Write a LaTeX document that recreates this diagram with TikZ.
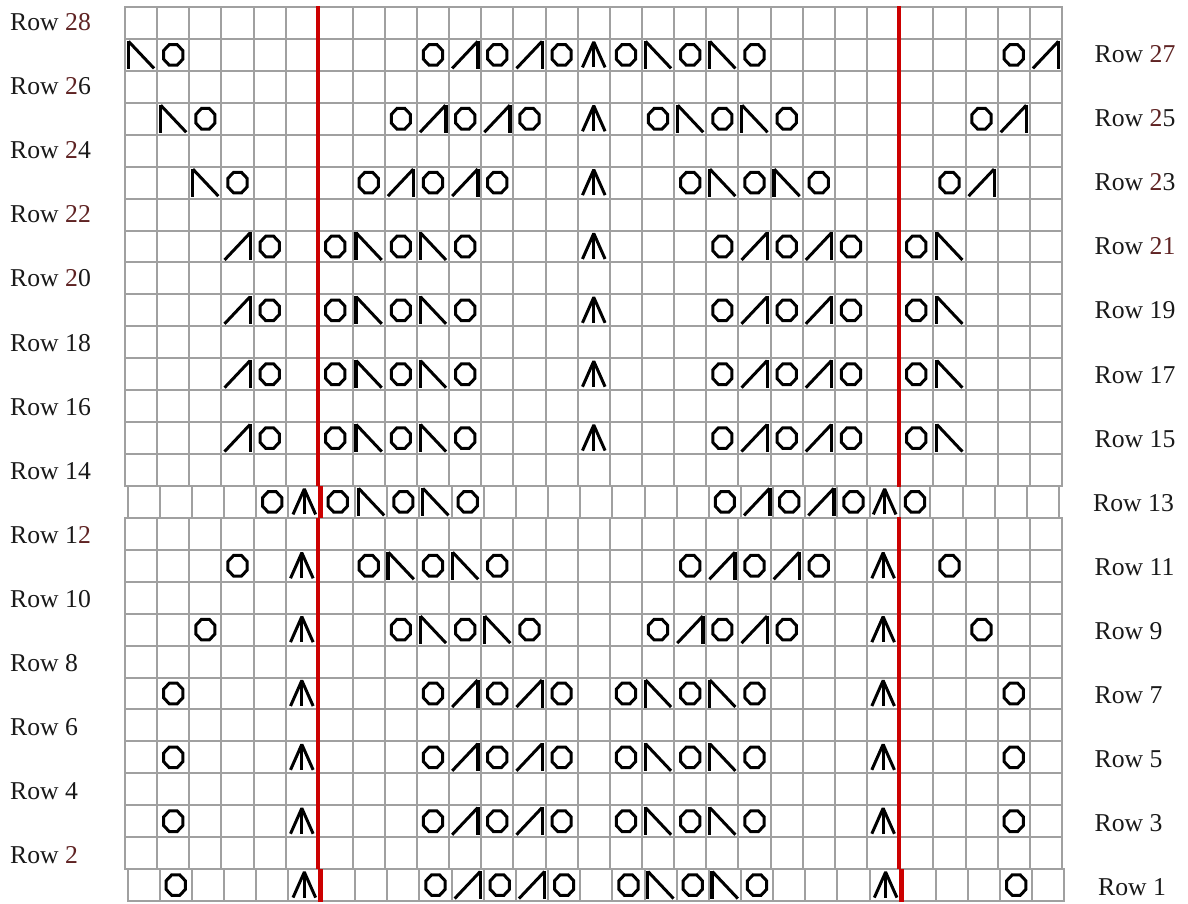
\documentclass[tikz,border=0pt]{standalone}
\usepackage{fontspec}
\setmainfont{Liberation Serif}
\definecolor{gridgray}{RGB}{160,160,160}
\definecolor{chartred}{RGB}{204,0,0}
\definecolor{numbrown}{RGB}{95,35,35}
\definecolor{labelink}{RGB}{25,25,25}
\pgfmathdeclarefunction{bx}{2}{\pgfmathparse{125+32.15*#1+(#1>6)*2.6+(#1>24)*2+(#2==1)*2.5+(#2==13)*((#1<24)*2.5+(#1==24)*0.5-(#1>24)*3)}}
\pgfmathdeclarefunction{yy}{1}{\pgfmathparse{7+31.93*#1}}
\newcommand\knitO{\draw[symline] (-3.95,-10.3) -- (3.95,-10.3) -- (9.6,-4.3) -- (9.6,4.3) -- (3.95,10.3) -- (-3.95,10.3) -- (-9.6,4.3) -- (-9.6,-4.3) -- cycle;}
\newcommand\knitL{\draw[symline,line width=3.4pt] (12.8,-14) -- (12.8,14); \draw[symline] (-13,13.5) -- (12.5,-13.5);}
\newcommand\knitR{\draw[symline,line width=3.4pt] (-12.8,-14) -- (-12.8,14); \draw[symline] (-12.5,-13.5) -- (13,13.5);}
\newcommand\knitA{\draw[symline,line join=bevel] (-11.3,12.5) -- (0,-13) -- (11.3,12.5); \draw[symline] (0,-13) -- (0,12.5);}
\newcommand\chartrow[3]{%
  \foreach \c/\s in {#3} {%
    \pgfmathsetmacro\cx{(bx(\c-1,#2)+bx(\c,#2))/2}%
    \pgfmathsetmacro\cy{yy(#1)+15.965}%
    \begin{scope}[shift={(\cx,\cy)}]\csname knit\s\endcsname\end{scope}%
  }}
\begin{document}
\begin{tikzpicture}[x=1pt,y=-1pt,
  gridline/.style={draw=gridgray,line width=2pt,line cap=rect},
  redline/.style={draw=chartred,line width=4.5pt},
  symline/.style={draw=black,line width=3pt,line cap=butt,line join=miter},
  lab/.style={anchor=base west,inner sep=0pt,text=labelink,font=\fontsize{25.7}{30}\selectfont}]
\fill[white] (0,0) rectangle (1188,903);
\useasboundingbox (0,0) rectangle (1188,903);
% normal rows grid
\foreach \j in {0,...,27} {
  \draw[gridline] ({bx(0,0)},{yy(\j)}) -- ({bx(29,0)},{yy(\j)});
}
\foreach \k in {0,1,2,3,4,5,7,8,9,10,11,12,13,14,15,16,17,18,19,20,21,22,23,25,26,27,28,29} {
  \draw[gridline] ({bx(\k,0)},{yy(0)}) -- ({bx(\k,0)},{yy(15)});
  \draw[gridline] ({bx(\k,0)},{yy(16)}) -- ({bx(\k,0)},{yy(27)});
}
% row 13 (shifted)
\fill[white] ({bx(0,13)},{yy(15)}) rectangle ({bx(29,13)},{yy(16)});
\draw[gridline] ({bx(0,13)},{yy(15)}) -- ({bx(29,13)},{yy(15)});
\draw[gridline] ({bx(0,13)},{yy(16)}) -- ({bx(29,13)},{yy(16)});
\foreach \k in {0,1,2,3,4,5,7,8,9,10,11,12,13,14,15,16,17,18,19,20,21,22,23,24,25,26,27,28,29} {
  \draw[gridline] ({bx(\k,13)},{yy(15)}) -- ({bx(\k,13)},{yy(16)});
}
% row 1 (shifted)
\draw[gridline] ({bx(0,1)},{yy(27)}) -- ({bx(29,1)},{yy(27)});
\draw[gridline] ({bx(0,1)},{yy(28)}) -- ({bx(29,1)},{yy(28)});
\foreach \k in {0,1,2,3,4,5,7,8,9,10,11,12,13,14,15,16,17,18,19,20,21,22,23,25,26,27,28,29} {
  \draw[gridline] ({bx(\k,1)},{yy(27)}) -- ({bx(\k,1)},{yy(28)});
}
% red lines
\draw[redline] ({bx(6,0)},{yy(0)-1}) -- ({bx(6,0)},{yy(15)});
\draw[redline] ({bx(6,13)},{yy(15)}) -- ({bx(6,13)},{yy(16)});
\draw[redline] ({bx(6,0)},{yy(16)}) -- ({bx(6,0)},{yy(27)});
\draw[redline] ({bx(6,1)},{yy(27)}) -- ({bx(6,1)},{yy(28)+1});
\draw[redline] ({bx(24,0)},{yy(0)-1}) -- ({bx(24,0)},{yy(15)+1});
\draw[redline] ({bx(24,0)},{yy(16)-1}) -- ({bx(24,0)},{yy(27)});
\draw[redline] ({bx(24,1)},{yy(27)}) -- ({bx(24,1)},{yy(28)+1});
% symbols
\chartrow{1}{0}{1/R,2/O,10/O,11/L,12/O,13/L,14/O,15/A,16/O,17/R,18/O,19/R,20/O,28/O,29/L}
\chartrow{3}{0}{2/R,3/O,9/O,10/L,11/O,12/L,13/O,15/A,17/O,18/R,19/O,20/R,21/O,27/O,28/L}
\chartrow{5}{0}{3/R,4/O,8/O,9/L,10/O,11/L,12/O,15/A,18/O,19/R,20/O,21/R,22/O,26/O,27/L}
\foreach \jj in {7,9,11,13} {
  \chartrow{\jj}{0}{4/L,5/O,7/O,8/R,9/O,10/R,11/O,15/A,19/O,20/L,21/O,22/L,23/O,25/O,26/R}
}
\chartrow{15}{13}{5/O,6/A,7/O,8/R,9/O,10/R,11/O,19/O,20/L,21/O,22/L,23/O,24/A,25/O}
\chartrow{17}{0}{4/O,6/A,8/O,9/R,10/O,11/R,12/O,18/O,19/L,20/O,21/L,22/O,24/A,26/O}
\chartrow{19}{0}{3/O,6/A,9/O,10/R,11/O,12/R,13/O,17/O,18/L,19/O,20/L,21/O,24/A,27/O}
\foreach \jj in {21,23,25} {
  \chartrow{\jj}{0}{2/O,6/A,10/O,11/L,12/O,13/L,14/O,16/O,17/R,18/O,19/R,20/O,24/A,28/O}
}
\chartrow{27}{1}{2/O,6/A,10/O,11/L,12/O,13/L,14/O,16/O,17/R,18/O,19/R,20/O,24/A,28/O}
% left labels (even rows)
\node[lab] (r28) at (10,{30.7+32.03*0}) {Row \textcolor{numbrown}{28}};
\node[lab] (r26) at (10,{30.7+32.03*2}) {Row \textcolor{numbrown}{2}6};
\node[lab] (r24) at (10,{30.7+32.03*4}) {Row \textcolor{numbrown}{2}4};
\node[lab] (r22) at (10,{30.7+32.03*6}) {Row \textcolor{numbrown}{22}};
\node[lab] (r20) at (10,{30.7+32.03*8}) {Row \textcolor{numbrown}{2}0};
\node[lab] (r18) at (10,{30.7+32.03*10}) {Row 18};
\node[lab] (r16) at (10,{30.7+32.03*12}) {Row 16};
\node[lab] (r14) at (10,{30.7+32.03*14}) {Row 14};
\node[lab] (r12) at (10,{30.7+32.03*16}) {Row 1\textcolor{numbrown}{2}};
\node[lab] (r10) at (10,{30.7+32.03*18}) {Row 10};
\node[lab] (r8) at (10,{30.7+32.03*20}) {Row 8};
\node[lab] (r6) at (10,{30.7+32.03*22}) {Row 6};
\node[lab] (r4) at (10,{30.7+32.03*24}) {Row 4};
\node[lab] (r2) at (10,{30.7+32.03*26}) {Row \textcolor{numbrown}{2}};
% right labels (odd rows)
\node[lab] (r27) at (1094.5,{30.7+32.03*1}) {Row \textcolor{numbrown}{27}};
\node[lab] (r25) at (1094.5,{30.7+32.03*3}) {Row \textcolor{numbrown}{2}5};
\node[lab] (r23) at (1094.5,{30.7+32.03*5}) {Row \textcolor{numbrown}{2}3};
\node[lab] (r21) at (1094.5,{30.7+32.03*7}) {Row \textcolor{numbrown}{21}};
\node[lab] (r19) at (1094.5,{30.7+32.03*9}) {Row 19};
\node[lab] (r17) at (1094.5,{30.7+32.03*11}) {Row 17};
\node[lab] (r15) at (1094.5,{30.7+32.03*13}) {Row 15};
\node[lab] (r13) at (1093,{30.7+32.03*15}) {Row 13};
\node[lab] (r11) at (1094.5,{30.7+32.03*17}) {Row 11};
\node[lab] (r9) at (1094.5,{30.7+32.03*19}) {Row 9};
\node[lab] (r7) at (1094.5,{30.7+32.03*21}) {Row 7};
\node[lab] (r5) at (1094.5,{30.7+32.03*23}) {Row 5};
\node[lab] (r3) at (1094.5,{30.7+32.03*25}) {Row 3};
\node[lab] (r1) at (1098,{30.7+32.03*27}) {Row 1};
\end{tikzpicture}
\end{document}
